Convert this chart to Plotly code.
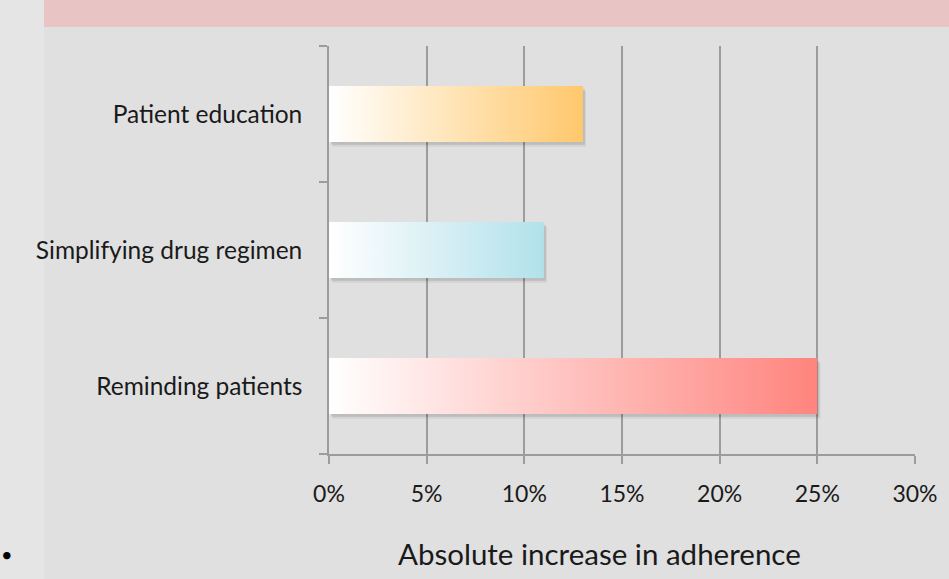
import plotly.graph_objects as go

# ---- data ----
categories = ["Reminding patients", "Simplifying drug regimen", "Patient education"]
values = [25, 11, 13]
end_colors = ["#ff847e", "#b2e1eb", "#ffc86c"]
x_ticks = [0, 5, 10, 15, 20, 25, 30]
x_tick_labels = ["0%", "5%", "10%", "15%", "20%", "25%", "30%"]
x_title = "Absolute increase in adherence"

W, H = 949, 579
L, R, T, B = 329, 34, 46, 125
PW, PH = W - L - R, H - T - B

FONT = "Lato, 'Open Sans', sans-serif"
half = 0.205


def px_x(px):
    return (px - L) / PW


def px_y(py):
    return (T + PH - py) / PH


fig = go.Figure()

# invisible trace establishing the categorical label axis
fig.add_trace(go.Scatter(x=[None] * len(categories), y=categories, mode="markers",
                         showlegend=False, hoverinfo="skip", yaxis="y"))

# soft shadows (two layers)
for i, v in enumerate(values):
    for dx, dy, a in [(0.10, 0.022, 0.10), (0.16, 0.035, 0.06)]:
        fig.add_trace(go.Scatter(
            x=[0 + dx, v + dx, v + dx, 0 + dx, 0 + dx],
            y=[i - half - dy, i - half - dy, i + half - dy, i + half - dy, i - half - dy],
            fill="toself", mode="lines", line=dict(width=0),
            fillcolor=f"rgba(0,0,0,{a})", showlegend=False, hoverinfo="skip", yaxis="y2"))

# gradient bars
for i, (v, c) in enumerate(zip(values, end_colors)):
    fig.add_trace(go.Scatter(
        x=[0, v, v, 0, 0],
        y=[i - half, i - half, i + half, i + half, i - half],
        fill="toself", mode="lines", line=dict(width=0),
        fillgradient=dict(type="horizontal", colorscale=[[0, "#ffffff"], [1, c]]),
        showlegend=False, hoverinfo="skip", yaxis="y2"))

shapes = [
    dict(type="rect", xref="paper", yref="paper",
         x0=px_x(0), x1=px_x(W), y0=px_y(H), y1=px_y(0),
         fillcolor="#e0e0e0", line=dict(width=0), layer="below"),
    dict(type="rect", xref="paper", yref="paper",
         x0=px_x(0), x1=px_x(44), y0=px_y(H), y1=px_y(0),
         fillcolor="#e5e5e5", line=dict(width=0), layer="below"),
    dict(type="rect", xref="paper", yref="paper",
         x0=px_x(44), x1=px_x(W), y0=px_y(27), y1=px_y(0),
         fillcolor="#e8c5c4", line=dict(width=0), layer="below"),
]

fig.update_layout(
    width=W, height=H,
    margin=dict(l=L, r=R, t=T, b=B),
    paper_bgcolor="#e0e0e0", plot_bgcolor="rgba(0,0,0,0)",
    shapes=shapes,
    font=dict(family=FONT, color="#1a1a1a"),
    xaxis=dict(range=[0, 30], tickvals=x_ticks, ticktext=x_tick_labels,
               showgrid=True, gridcolor="#9c9c9c", gridwidth=1.6,
               zeroline=False, showline=True, linecolor="#9c9c9c", linewidth=1.6,
               ticks="outside", ticklen=8, tickcolor="#9c9c9c", tickwidth=1.6,
               ticklabelstandoff=11,
               tickfont=dict(size=23, family=FONT, color="#1a1a1a"),
               fixedrange=True),
    yaxis=dict(type="category", categoryorder="array", categoryarray=categories,
               range=[-0.5, 2.5], tickson="boundaries",
               showgrid=False, zeroline=False, showline=True, linecolor="#9c9c9c",
               linewidth=1.6, ticks="outside", ticklen=8, tickcolor="#9c9c9c",
               tickwidth=1.6, ticklabelstandoff=20,
               tickfont=dict(size=24.5, family=FONT, color="#1a1a1a")),
    yaxis2=dict(range=[-0.5, 2.5], overlaying="y", visible=False),
    annotations=[
        dict(text=x_title, xref="paper", yref="paper", x=px_x(599), y=px_y(553),
             xanchor="center", yanchor="middle", showarrow=False,
             font=dict(size=29.5, family=FONT, color="#1a1a1a")),
        dict(text="•", xref="paper", yref="paper", x=px_x(0), y=px_y(554),
             xanchor="left", yanchor="middle", showarrow=False, borderpad=0,
             font=dict(size=20, color="#000000")),
    ],
)

fig.write_html("out.html")
